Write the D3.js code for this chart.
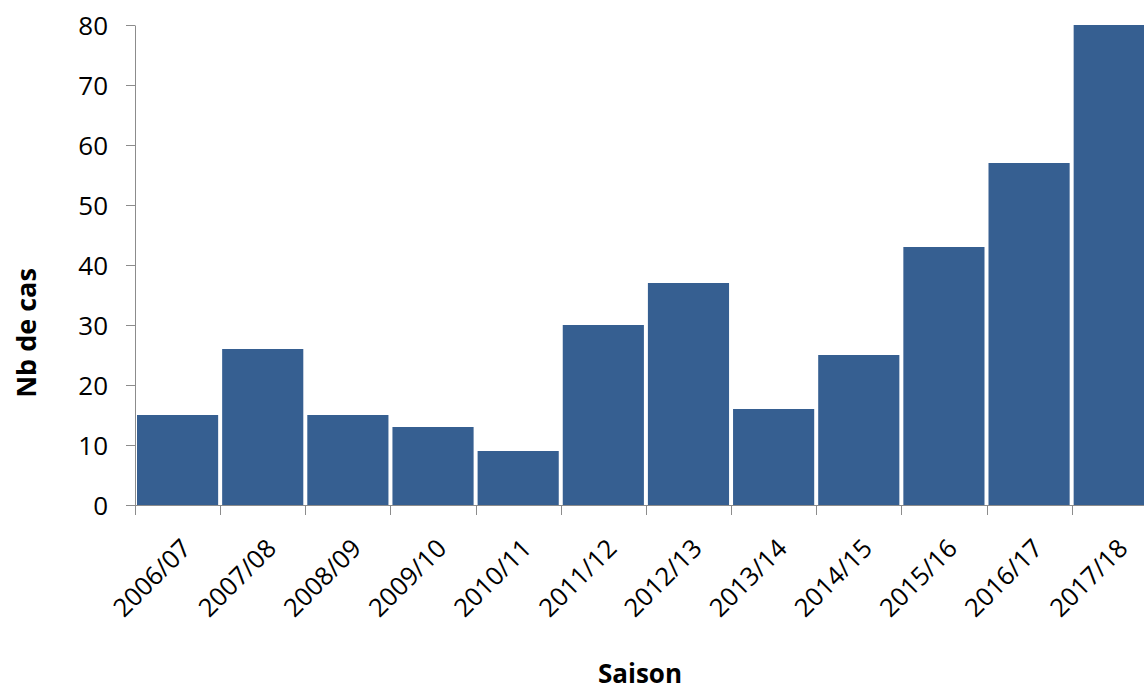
<!DOCTYPE html>
<html>
<head>
<meta charset="utf-8">
<script src="https://cdn.jsdelivr.net/npm/d3@7"></script>
<style>
  html, body { margin: 0; padding: 0; background: #fff; overflow: hidden; }
  svg { display: block; }
  text { font-family: "Open Sans", "Liberation Sans", sans-serif; fill: #000; }
</style>
</head>
<body>
<svg id="chart" width="1144" height="687"></svg>
<script>
// Seasons and number of cases per season
const seasons = ["2006/07", "2007/08", "2008/09", "2009/10", "2010/11", "2011/12",
                 "2012/13", "2013/14", "2014/15", "2015/16", "2016/17", "2017/18"];
const cases = [15, 26, 15, 13, 9, 30, 37, 16, 25, 43, 57, 80];
const yTicks = [0, 10, 20, 30, 40, 50, 60, 70, 80];

const svg = d3.select("#chart");
const plotLeft = 135, plotBottom = 505, plotTop = 25;
const step = 85.15;

const x = d3.scaleBand()
  .domain(seasons)
  .range([plotLeft, plotLeft + step * seasons.length])
  .paddingInner(0).paddingOuter(0);

const y = d3.scaleLinear().domain([0, 80]).range([plotBottom, plotTop]);

const axisColor = "#8c8c8c";

// bars
svg.append("g")
  .selectAll("rect")
  .data(seasons)
  .join("rect")
  .attr("x", d => x(d) + 2)
  .attr("width", x.bandwidth() - 4)
  .attr("y", (d, i) => y(cases[i]))
  .attr("height", (d, i) => y(0) - y(cases[i]))
  .attr("fill", "#365f91");

// y axis
const yAxis = svg.append("g")
  .attr("transform", `translate(${plotLeft},0)`)
  .call(d3.axisLeft(y).tickValues(yTicks).tickSize(9).tickPadding(18).tickSizeOuter(0));
yAxis.select(".domain").attr("stroke", axisColor);
yAxis.selectAll(".tick line").attr("stroke", axisColor);
yAxis.selectAll(".tick text")
  .attr("font-size", 26)
  .attr("dy", "0.36em")
  .style("font-family", "'Open Sans', sans-serif");

// x axis with ticks on band boundaries
const xAxis = svg.append("g")
  .attr("transform", `translate(0,${plotBottom})`);
xAxis.append("line")
  .attr("x1", plotLeft).attr("x2", 1144)
  .attr("y1", 0.5).attr("y2", 0.5)
  .attr("stroke", axisColor);
xAxis.selectAll("line.tk")
  .data(seasons)
  .join("line")
  .attr("class", "tk")
  .attr("x1", d => Math.round(x(d)) + 0.5)
  .attr("x2", d => Math.round(x(d)) + 0.5)
  .attr("y1", 0).attr("y2", 10)
  .attr("stroke", axisColor);

// rotated season labels
xAxis.selectAll("text.lbl")
  .data(seasons)
  .join("text")
  .attr("class", "lbl")
  .attr("font-size", 25.5)
  .attr("text-anchor", "end")
  .attr("transform", d => `translate(${x(d) + x.bandwidth() / 2 + 15},${45}) rotate(-45)`)
  .text(d => d);

// axis titles
svg.append("text")
  .attr("x", 640).attr("y", 683)
  .attr("text-anchor", "middle")
  .attr("font-size", 26)
  .attr("font-weight", "bold")
  .text("Saison");

svg.append("text")
  .attr("transform", "translate(36,333) rotate(-90)")
  .attr("text-anchor", "middle")
  .attr("font-size", 27)
  .attr("font-weight", "bold")
  .text("Nb de cas");
</script>
</body>
</html>
